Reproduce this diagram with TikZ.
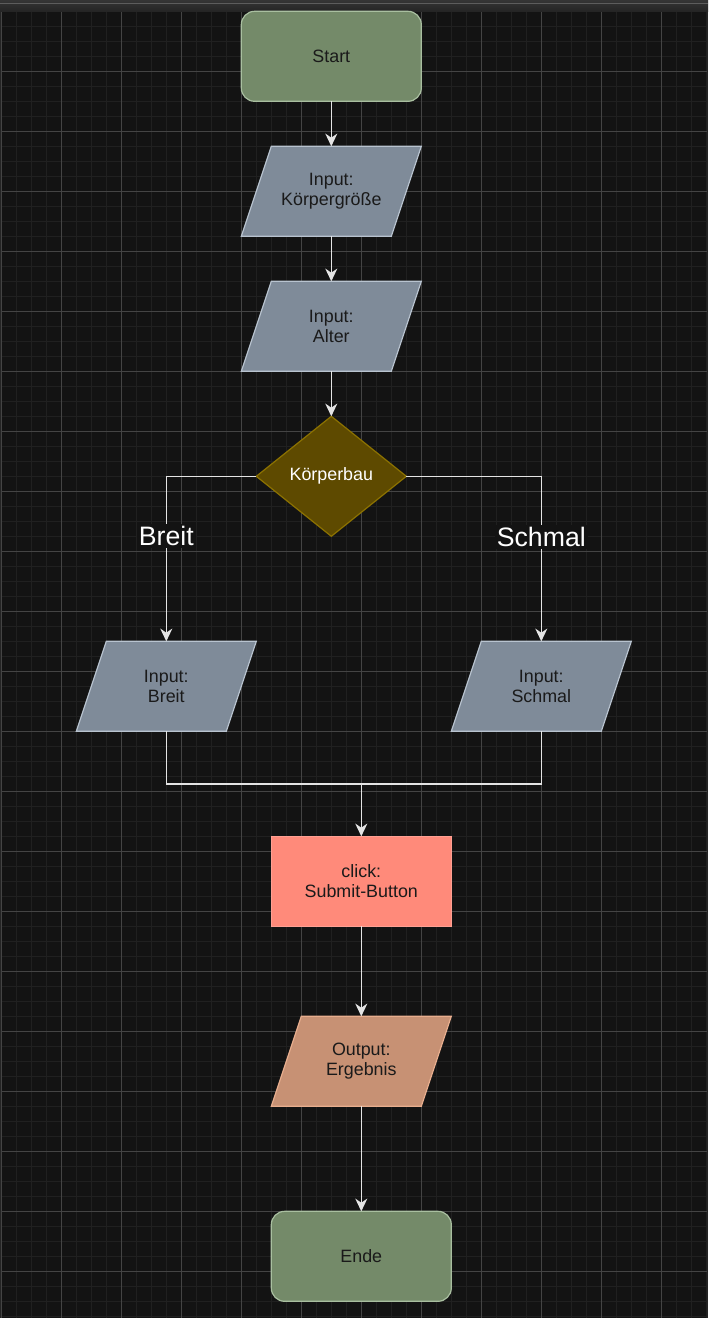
\documentclass[tikz,border=0pt]{standalone}
\usepackage{fontspec}
\setmainfont{Liberation Sans}
\usetikzlibrary{shapes.geometric,arrows.meta}
\definecolor{bg}{HTML}{131313}
\definecolor{gridminor}{HTML}{202020}
\definecolor{gridmajor}{HTML}{444444}
\definecolor{termfill}{HTML}{748A69}
\definecolor{termdraw}{HTML}{A9BFA0}
\definecolor{iofill}{HTML}{7F8B99}
\definecolor{iodraw}{HTML}{B8C3CF}
\definecolor{decfill}{HTML}{5E4A00}
\definecolor{decdraw}{HTML}{8C7200}
\definecolor{clickfill}{HTML}{FF8A7A}
\definecolor{clickdraw}{HTML}{FFA093}
\definecolor{outfill}{HTML}{C79174}
\definecolor{outdraw}{HTML}{E8AE8E}
\definecolor{txtdark}{HTML}{1A1A1A}
\definecolor{wire}{HTML}{E4E4E4}
\definecolor{barA}{HTML}{353535}
\definecolor{barB}{HTML}{242424}
% parallelogram: name, cx, cy, shape style, text
\newcommand{\ioPara}[5]{%
  \path[#4] ({#2-90},{#3+45}) -- ({#2+60},{#3+45}) -- ({#2+90},{#3-45}) -- ({#2-60},{#3-45}) -- cycle;
  \node[iotext] (#1) at (#2,#3) {#5};
}
\begin{document}
\begin{tikzpicture}[x=0.75pt,y=-0.75pt,
  every node/.style={outer sep=0pt},
  nodefont/.style={font=\fontsize{13.4}{15}\selectfont},
  terminal/.style={rectangle, rounded corners=10pt, minimum width=135pt, minimum height=67.5pt,
    fill=termfill, draw=termdraw, line width=0.9pt, text=txtdark, nodefont},
  iotext/.style={rectangle, minimum width=135pt, minimum height=67.5pt, text=txtdark,
    align=center, nodefont},
  ioshape/.style={fill=iofill, draw=iodraw, line width=0.9pt},
  outshape/.style={fill=outfill, draw=outdraw, line width=0.9pt},
  decision/.style={diamond, minimum width=112.5pt, minimum height=90pt,
    fill=decfill, draw=decdraw, line width=0.9pt, text=white, nodefont},
  action/.style={rectangle, minimum width=135pt, minimum height=67.5pt,
    fill=clickfill, draw=clickdraw, line width=0.9pt, text=txtdark, align=center, nodefont},
  wireline/.style={draw=wire, line width=1.1pt},
  arr/.style={wireline, -{Stealth[length=9.5pt,width=9pt,inset=3pt]}},
  branchlabel/.style={fill=bg, text=white, inner sep=1.5pt, font=\fontsize{20}{22}\selectfont},
  minorline/.style={draw=gridminor, line width=0.75pt},
  majorline/.style={draw=gridmajor, line width=0.6pt}
]
\useasboundingbox (0,0) rectangle (708,1318);
\fill[bg] (0,0) rectangle (708,1318);
% grid
\foreach \i in {0,...,47} { \draw[minorline] ({1.3+15*\i},12) -- ({1.3+15*\i},1318); }
\foreach \j in {0,...,87} { \draw[minorline] (0,{11.3+15*\j}) -- (708,{11.3+15*\j}); }
\foreach \i in {0,...,11} { \draw[majorline] ({1.3+60*\i},12) -- ({1.3+60*\i},1318); }
\foreach \j in {0,...,21} { \draw[majorline] (0,{11.3+60*\j}) -- (708,{11.3+60*\j}); }
% window edges
\shade[top color=barA, bottom color=barB] (0,0) rectangle (708,11.5);
\draw[draw=barA!80!white, line width=0.6pt] (0,3.5) -- (708,3.5);
\fill[barB] (0,11.5) rectangle (1.3,1318);
\fill[barB] (706.7,11.5) rectangle (708,1318);
% nodes
\node[terminal] (start) at (331.3,56.3) {Start};
\ioPara{groesse}{331.3}{191.3}{ioshape}{Input:\\Körpergröße}
\ioPara{alter}{331.3}{326.3}{ioshape}{Input:\\Alter}
\node[decision] (bau) at (331.3,476.3) {Körperbau};
\ioPara{breit}{166.3}{686.3}{ioshape}{Input:\\Breit}
\ioPara{schmal}{541.3}{686.3}{ioshape}{Input:\\Schmal}
\node[action] (click) at (361.3,881.3) {click:\\Submit-Button};
\ioPara{output}{361.3}{1061.3}{outshape}{Output:\\Ergebnis}
\node[terminal] (ende) at (361.3,1256.3) {Ende};
\coordinate (merge) at (361.3,784);
% connectors
\draw[arr] (start.south) -- (groesse.north);
\draw[arr] (groesse.south) -- (alter.north);
\draw[arr] (alter.south) -- (bau.north);
\draw[arr] (bau.west) -| node[branchlabel, pos=0.681] (lbreit) {Breit} (breit.north);
\draw[arr] (bau.east) -| node[branchlabel, pos=0.684] (lschmal) {Schmal} (schmal.north);
\draw[wireline] (breit.south) |- (merge);
\draw[wireline] (schmal.south) |- (merge);
\draw[arr] (merge) -- (click.north);
\draw[arr] (click.south) -- (output.north);
\draw[arr] (output.south) -- (ende.north);
\end{tikzpicture}
\end{document}
